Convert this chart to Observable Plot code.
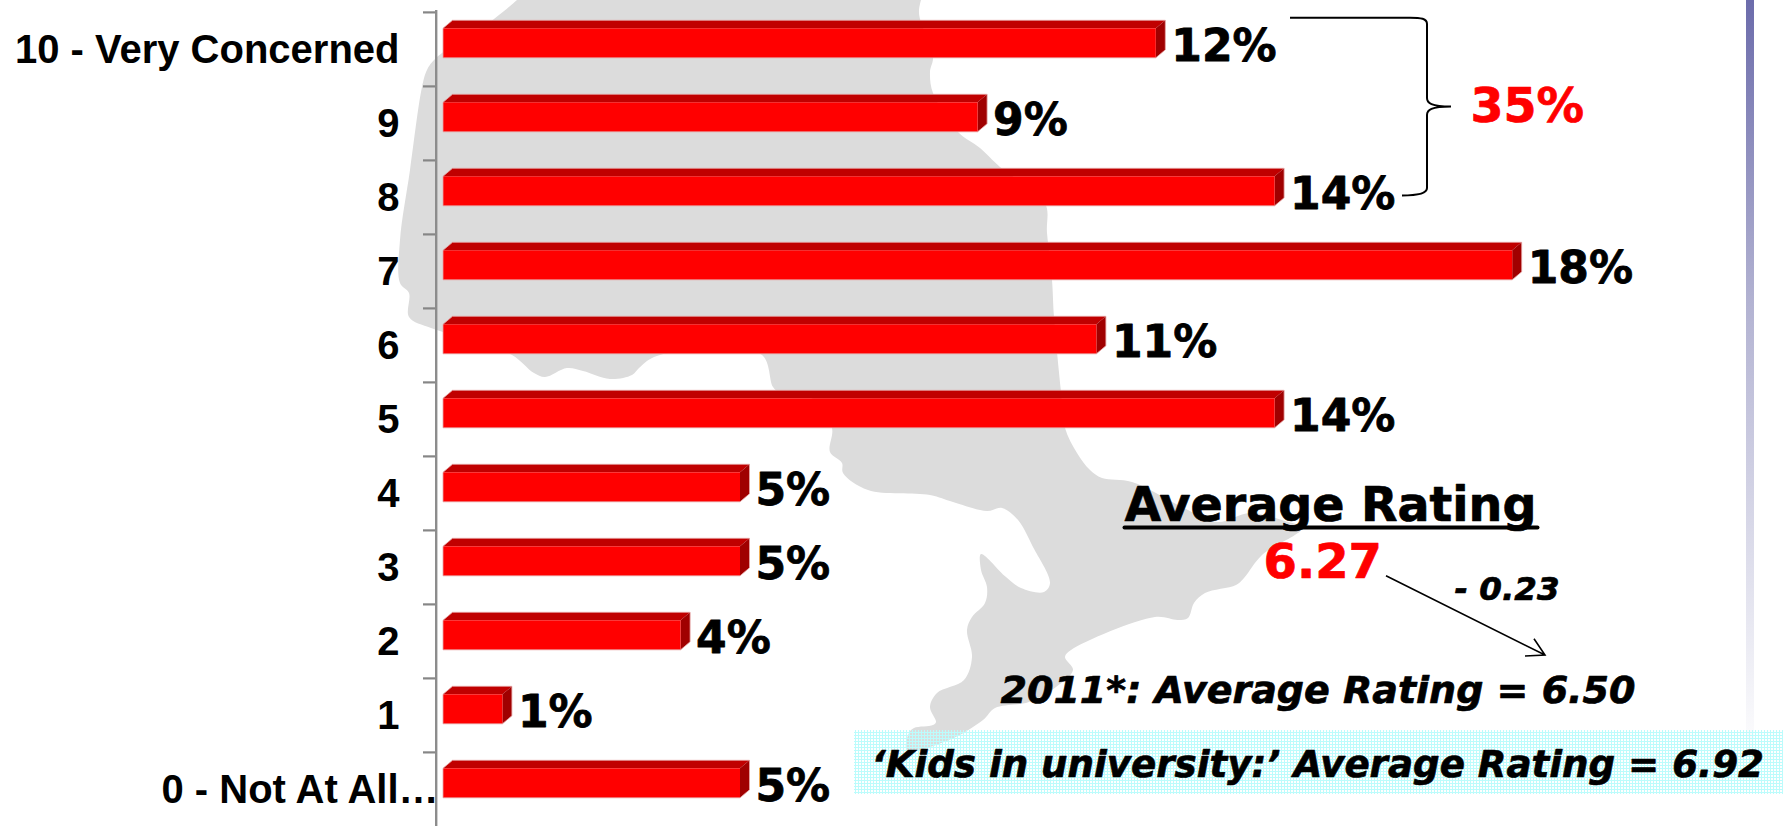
<!DOCTYPE html>
<html>
<head>
<meta charset="utf-8">
<style>
html,body{margin:0;padding:0;background:#fff;overflow:hidden}
svg{display:block}
</style>
<script src="https://cdn.jsdelivr.net/npm/d3@7"></script>
<script src="https://cdn.jsdelivr.net/npm/@observablehq/plot@0.6"></script>
</head>
<body>
<div id="chart"></div>
<script>
// Chart values
const categories = ["10 - Very Concerned","9","8","7","6","5","4","3","2","1","0 - Not At All…"];
const percents = [12,9,14,18,11,14,5,5,4,1,5];

// Annotation texts
const bracketTotal = "35%";
const averageTitle = "Average Rating";
const averageValue = "6.27";
const averageDelta = "- 0.23";
const average2011 = "2011*: Average Rating = 6.50";
const averageKids = "‘Kids in university:’ Average Rating = 6.92";

// Background silhouette, traced in page pixels
const mapOutline = [[517,0],[494,19],[436,58],[427,70],[422,87],[410,170],[400,240],[400,283],[409,293],[409,317],[431,328],[470,340],[512,355],[534,373],[545,377],[567,368],[583,371],[610,379],[632,375],[639,368],[654,357],[700,350],[762,355],[773,387],[779,392],[815,400],[832,428],[830,452],[842,463],[843,473],[868,490],[930,495],[953,502],[987,511],[1002,508],[1018,520],[1033,547],[1050,583],[1044,592],[1021,588],[1006,577],[981,554],[981,570],[987,587],[985,603],[972,617],[967,630],[972,657],[964,680],[937,693],[930,707],[936,722],[933,725],[914,728],[909,733],[907,750],[949,740],[983,720],[995,708],[1029,702],[1056,687],[1073,670],[1065,657],[1071,650],[1155,617],[1178,620],[1188,618],[1194,603],[1205,593],[1236,585],[1244,578],[1262,555],[1302,528],[1285,521],[1250,513],[1217,522],[1182,507],[1132,482],[1102,478],[1090,470],[1077,453],[1065,428],[1061,392],[1054,317],[1052,280],[1047,233],[1045,203],[1000,167],[980,148],[958,132],[933,93],[930,72],[933,57],[920,19],[919,10],[921,0]];

const rows = categories.map((cat, i) => ({cat, value: percents[i], label: percents[i] + "%"}));
const abs = (field) => ({value: field, scale: null});
const halfBand = 37.1; // the band scale shifts every mark by half a band

const background = () => {
  const g = d3.create("svg:g");
  const defs = g.append("defs");
  const grad = defs.append("linearGradient").attr("id","stripFade").attr("x1",0).attr("y1",0).attr("x2",0).attr("y2",1);
  grad.append("stop").attr("offset",0).attr("stop-color","#6c6cab");
  grad.append("stop").attr("offset",0.4).attr("stop-color","#b3b3d2");
  grad.append("stop").attr("offset",1).attr("stop-color","#ffffff");
  const pat = defs.append("pattern").attr("id","cyanWeave").attr("patternUnits","userSpaceOnUse").attr("width",3).attr("height",3);
  pat.append("path").attr("d","M0 .5H3M.5 0V3").attr("stroke","#bcfcfc").attr("stroke-width",1).attr("fill","none");
  g.append("rect").attr("x",1746).attr("y",0).attr("width",8).attr("height",760).attr("fill","url(#stripFade)");
  g.append("path").attr("d", d3.line().curve(d3.curveCatmullRom.alpha(0.5))(mapOutline)+"Z").attr("fill","#dcdcdc");
  g.append("rect").attr("x",854).attr("y",730).attr("width",929).attr("height",64).attr("fill","url(#cyanWeave)");
  return g.node();
};

const connectors = () => {
  const g = d3.create("svg:g").attr("fill","none").attr("stroke","#000");
  g.append("path").attr("stroke-width",2)
    .attr("d","M1290 17.7H1410C1421 17.7 1427 18.5 1427 24V98C1427 103 1431 106.5 1451 106.5C1431 106.5 1427 110 1427 115V188C1427 193 1418 195.5 1402 195.5");
  g.append("path").attr("stroke-width",1.6)
    .attr("d","M1386 575.7L1545 655M1534 638.7L1545 655L1525 656");
  return g.node();
};

function bar3d(index, scales, values, dims, ctx, next) {
  const node = next(index, scales, values, dims, ctx);
  const depthX = 9.5, depthY = 8;
  d3.select(node).selectAll("rect").each(function () {
    const r = d3.select(this);
    const x = +r.attr("x"), y = +r.attr("y"), w = +r.attr("width"), h = +r.attr("height");
    const parent = this.parentNode;
    const poly = (pts, fill) => {
      const p = document.createElementNS("http://www.w3.org/2000/svg","polygon");
      p.setAttribute("points", pts.map(q => q.join(",")).join(" "));
      p.setAttribute("fill", fill);
      parent.insertBefore(p, this);
    };
    poly([[x,y],[x+depthX,y-depthY],[x+w+depthX,y-depthY],[x+w,y]], "#c00000");
    poly([[x+w,y],[x+w+depthX,y-depthY],[x+w+depthX,y+h-depthY],[x+w,y+h]], "#a00000");
    const edge = document.createElementNS("http://www.w3.org/2000/svg","polygon");
    edge.setAttribute("points",[[x,y],[x+depthX,y-depthY],[x+w+depthX,y-depthY],[x+w+depthX,y+h-depthY],[x+w,y+h],[x,y+h]].map(q=>q.join(",")).join(" "));
    edge.setAttribute("fill","none");
    edge.setAttribute("stroke","#e6a5a5");
    edge.setAttribute("stroke-width",0.8);
    parent.insertBefore(edge, this.nextSibling);
  });
  return node;
}

const dejavu = "DejaVu Sans, Verdana, sans-serif";
const liberation = "Liberation Sans, Arial, sans-serif";
const note = (d, opts) => Plot.text([{...d, y: d.y - halfBand}], {x: abs("x"), y: abs("y"), text: "t", fontFamily: dejavu, fontWeight: "bold", textAnchor: "start", lineAnchor: "bottom", stroke: opts.fill, strokeWidth: 0.7, ...opts});

const chart = Plot.plot({
  width: 1783,
  height: 826,
  marginLeft: 435,
  marginTop: 0,
  marginBottom: 0,
  marginRight: 0,
  style: {background: "#fff", fontFamily: liberation},
  x: {domain: [0, 18], range: [443, 1512.2], axis: null},
  y: {domain: categories, range: [10.7, 826.9], padding: 0, label: null},
  marks: [
    background,
    Plot.barX(rows, {x: "value", y: "cat", fill: "#ff0000", insetTop: 16.3, insetBottom: 28.2, render: bar3d}),
    Plot.axisY({ticks: categories, tickSize: 12, text: null, dy: -37.1, stroke: "#868686", strokeWidth: 2.2}),
    Plot.ruleX([0], {x: {value: () => -7.3 / 59.4}, y1: abs(() => 10), y2: abs(() => 826), stroke: "#8c8c8c", strokeWidth: 2.4}),
    Plot.axisY({ticks: categories.slice(0, -1), tickSize: 0, tickPadding: 36, dy: 1, fontSize: 40, fontWeight: "bold", fill: "#000", stroke: "#000", strokeWidth: 0.5, fontFamily: liberation}),
    Plot.axisY({ticks: categories.slice(-1), tickSize: 0, tickPadding: 0, dx: 3, dy: 1, fontSize: 40, fontWeight: "bold", fill: "#000", stroke: "#000", strokeWidth: 0.5, fontFamily: liberation}),
    Plot.text(rows, {x: "value", y: "cat", text: "label", dx: 15, dy: -2.5, textAnchor: "start", fontSize: 44, fontWeight: "bold", fontFamily: dejavu, fill: "#000", stroke: "#000", strokeWidth: 0.8}),
    connectors,
    note({t: bracketTotal, x: 1470, y: 122}, {fontSize: 47.5, fill: "#ff0000"}),
    note({t: averageTitle, x: 1124, y: 521}, {fontSize: 47.5, fill: "#000"}),
    Plot.line([[1124,527 - halfBand],[1537,527 - halfBand]], {x: abs(d => d[0]), y: abs(d => d[1]), stroke: "#000", strokeWidth: 4}),
    note({t: averageValue, x: 1263, y: 578}, {fontSize: 48, fill: "#ff0000"}),
    note({t: averageDelta, x: 1454, y: 600}, {fontSize: 32.5, fontStyle: "italic", fill: "#000"}),
    note({t: average2011, x: 1000, y: 702.7}, {fontSize: 38, fontStyle: "italic", fill: "#000"}),
    note({t: averageKids, x: 871, y: 777}, {fontSize: 37.2, fontStyle: "italic", fill: "#000"})
  ]
});
document.getElementById("chart").appendChild(chart);
</script>
</body>
</html>
